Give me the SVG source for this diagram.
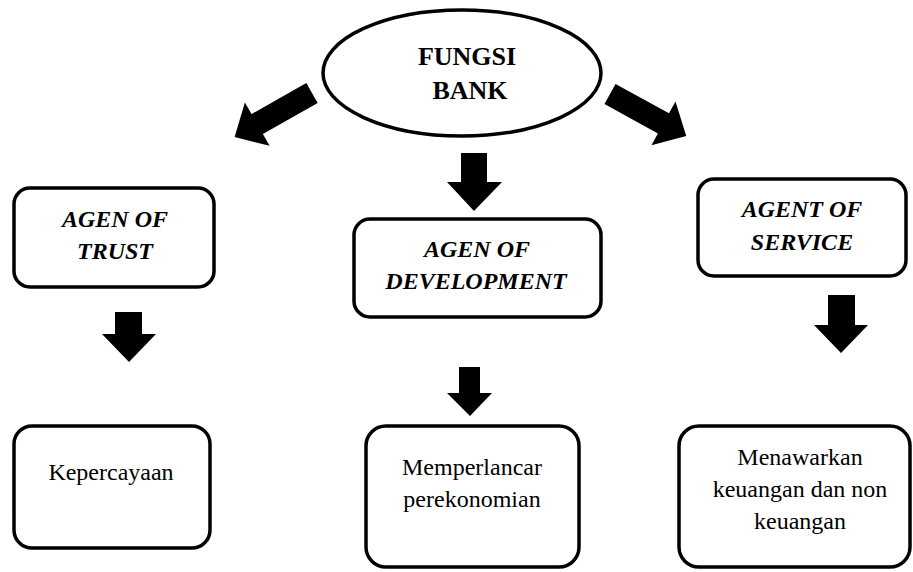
<svg xmlns="http://www.w3.org/2000/svg" width="913" height="572" viewBox="0 0 913 572">
<style>
.box{fill:#fff;stroke:#000;stroke-width:3.5}
.t{font-family:"Liberation Serif","Times New Roman",serif;font-size:24px;fill:#000;text-anchor:middle}
.bi{font-weight:bold;font-style:italic}
.b{font-weight:bold;font-size:26px}
.arr{fill:#000}
</style>
<rect width="913" height="572" fill="#fff"/>
<g id="connectors">
<path class="arr" transform="translate(312,93) rotate(150.4)" d="M0,-11.5 L63,-11.5 L63,-25 L89,0 L63,25 L63,11.5 L0,11.5 Z"/>
<path class="arr" transform="translate(610,94) rotate(28.8)" d="M0,-11.5 L61,-11.5 L61,-25 L87,0 L61,25 L61,11.5 L0,11.5 Z"/>
<path class="arr" d="M461,153 L487,153 L487,182 L502,182 L474,211 L447,182 L461,182 Z"/>
<path class="arr" d="M115,312 L142,312 L142,334 L156,334 L129,362 L102,334 L115,334 Z"/>
<path class="arr" d="M459,367 L480,367 L480,393 L492,393 L470,416 L447,393 L459,393 Z"/>
<path class="arr" d="M828,295 L855,295 L855,325 L868,325 L841,353 L814,325 L828,325 Z"/>
</g>
<g id="fungsi-bank">
<ellipse class="box" cx="462" cy="73" rx="139" ry="63"/>
<text class="t b" x="467" y="65">FUNGSI</text>
<text class="t b" x="470" y="99">BANK</text>
</g>
<g id="agen-of-trust">
<rect class="box" x="14" y="188" width="200" height="99" rx="16"/>
<text class="t bi" x="115" y="227">AGEN OF</text>
<text class="t bi" x="115" y="259">TRUST</text>
</g>
<g id="agen-of-development">
<rect class="box" x="354" y="219" width="247" height="98" rx="16"/>
<text class="t bi" x="477" y="257">AGEN OF</text>
<text class="t bi" x="476" y="289">DEVELOPMENT</text>
</g>
<g id="agent-of-service">
<rect class="box" x="698" y="179" width="208" height="97" rx="16"/>
<text class="t bi" x="802" y="217">AGENT OF</text>
<text class="t bi" x="802" y="250">SERVICE</text>
</g>
<g id="kepercayaan">
<rect class="box" x="14" y="426" width="196" height="122" rx="18"/>
<text class="t" x="111" y="480">Kepercayaan</text>
</g>
<g id="memperlancar">
<rect class="box" x="366" y="426" width="213" height="141" rx="20"/>
<text class="t" x="472" y="475">Memperlancar</text>
<text class="t" x="472" y="507">perekonomian</text>
</g>
<g id="menawarkan">
<rect class="box" x="679" y="426" width="231" height="141" rx="20"/>
<text class="t" x="800" y="465">Menawarkan</text>
<text class="t" x="800" y="497">keuangan dan non</text>
<text class="t" x="800" y="529">keuangan</text>
</g>
</svg>
